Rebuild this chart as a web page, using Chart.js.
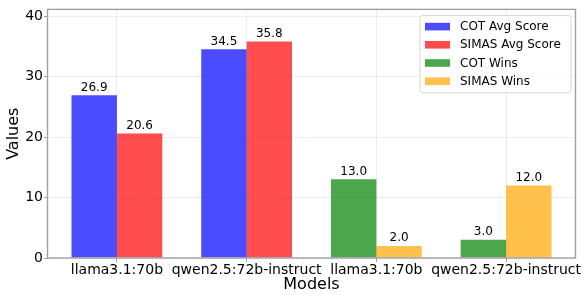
<!DOCTYPE html>
<html>
<head>
<meta charset="utf-8">
<script src="https://cdn.jsdelivr.net/npm/chart.js@4"></script>
<style>
  html, body { margin: 0; padding: 0; background: #fff; }
  #wrap { width: 582px; height: 295px; }
</style>
</head>
<body>
<div id="wrap"><canvas id="c" width="582" height="295"></canvas></div>
<script>
// ---- data ----
const categories = ['llama3.1:70b', 'qwen2.5:72b-instruct', 'llama3.1:70b', 'qwen2.5:72b-instruct'];
const cotAvgScore = [26.9, 34.5, null, null];
const simasAvgScore = [20.6, 35.8, null, null];
const cotWins = [null, null, 13.0, 3.0];
const simasWins = [null, null, 2.0, 12.0];
const yTickValues = [0, 10, 20, 30, 40];
const seriesNames = ['COT Avg Score', 'SIMAS Avg Score', 'COT Wins', 'SIMAS Wins'];

const FONT = 'DejaVu Sans';
const colors = ['rgba(0,0,255,0.7)', 'rgba(255,0,0,0.7)', 'rgba(0,128,0,0.7)', 'rgba(255,165,0,0.7)'];

function toPoints(arr) { return arr.map((v, i) => ({ x: i, y: v })); }

const seriesValues = [cotAvgScore, simasAvgScore, cotWins, simasWins];
const datasets = seriesValues.map((vals, k) => ({
  label: seriesNames[k],
  data: toPoints(vals),
  backgroundColor: colors[k],
  borderWidth: 0,
  categoryPercentage: 0.7,
  barPercentage: 1.0,
  skipNull: true
}));

const frameColor = '#a0a0a0';

const framePlugin = {
  id: 'frame',
  afterDatasetsDraw(chart) {
    const { ctx, chartArea: a } = chart;
    ctx.save();
    ctx.strokeStyle = frameColor;
    ctx.lineWidth = 1.4;
    ctx.strokeRect(a.left, a.top, a.right - a.left, a.bottom - a.top);
    ctx.restore();
  }
};

const valueLabelPlugin = {
  id: 'valueLabels',
  afterDatasetsDraw(chart) {
    const { ctx } = chart;
    ctx.save();
    ctx.font = '12px "' + FONT + '"';
    ctx.fillStyle = '#000';
    ctx.textAlign = 'center';
    ctx.textBaseline = 'alphabetic';
    chart.data.datasets.forEach((ds, di) => {
      const meta = chart.getDatasetMeta(di);
      meta.data.forEach((el, i) => {
        const v = ds.data[i].y;
        if (v === null || v === undefined) return;
        ctx.fillText(v.toFixed(1), el.x, el.y - 4.5);
      });
    });
    ctx.restore();
  }
};

const legendPlugin = {
  id: 'innerLegend',
  afterDraw(chart) {
    const { ctx, chartArea: a } = chart;
    const right = a.right - 4.5;
    const w = 151;
    const left = right - w;
    const top = a.top + 6;
    const h = 77.4;
    ctx.save();
    ctx.fillStyle = 'rgba(255,255,255,0.8)';
    ctx.strokeStyle = '#d6d6d6';
    ctx.lineWidth = 1;
    ctx.beginPath();
    if (ctx.roundRect) ctx.roundRect(left, top, w, h, 3); else ctx.rect(left, top, w, h);
    ctx.fill();
    ctx.stroke();
    ctx.font = '12px "' + FONT + '"';
    ctx.textBaseline = 'middle';
    ctx.textAlign = 'left';
    chart.data.datasets.forEach((ds, i) => {
      const cy = top + 11.2 + i * 18.2;
      ctx.fillStyle = ds.backgroundColor;
      ctx.fillRect(left + 5, cy - 3.8, 25, 7.6);
      ctx.fillStyle = '#000';
      ctx.fillText(ds.label, left + 40, cy + 0.5);
    });
    ctx.restore();
  }
};

new Chart(document.getElementById('c'), {
  type: 'bar',
  data: { datasets },
  options: {
    responsive: false,
    animation: false,
    layout: { padding: { top: 7.5, right: 6.5, left: 0, bottom: 0 } },
    plugins: {
      legend: { display: false },
      tooltip: { enabled: false }
    },
    scales: {
      x: {
        type: 'linear',
        min: -0.535,
        max: 3.535,
        offset: false,
        grid: {
          offset: false,
          color: 'rgba(0,0,0,0.09)',
          lineWidth: 0.8,
          borderDash: [3, 2],
          drawTicks: true,
          tickLength: 4,
          tickColor: frameColor,
          tickBorderDash: [],
          tickWidth: 1
        },
        border: { display: false },
        afterBuildTicks(scale) {
          scale.ticks = categories.map((_, i) => ({ value: i }));
        },
        afterFit(scale) { scale.height = 37; },
        ticks: {
          color: '#000',
          font: { family: FONT, size: 14 },
          padding: 0,
          maxRotation: 0,
          autoSkip: false,
          callback: (v) => categories[Math.round(v)]
        },
        title: {
          display: true,
          text: 'Models',
          color: '#000',
          font: { family: FONT, size: 16 },
          padding: { top: 0, bottom: 1 }
        }
      },
      y: {
        min: 0,
        max: 41.1,
        afterBuildTicks(scale) {
          scale.ticks = yTickValues.map(v => ({ value: v }));
        },
        afterFit(scale) { scale.width = 47.5; },
        grid: {
          color: 'rgba(0,0,0,0.09)',
          lineWidth: 0.8,
          borderDash: [3, 2],
          drawTicks: true,
          tickLength: 3.5,
          tickColor: frameColor,
          tickBorderDash: [],
          tickWidth: 1
        },
        border: { display: false },
        ticks: {
          color: '#000',
          font: { family: FONT, size: 14 },
          padding: 1
        },
        title: {
          display: true,
          text: 'Values',
          color: '#000',
          font: { family: FONT, size: 16 },
          padding: { top: 4, bottom: 0 }
        }
      }
    }
  },
  plugins: [framePlugin, valueLabelPlugin, legendPlugin]
});
</script>
</body>
</html>
